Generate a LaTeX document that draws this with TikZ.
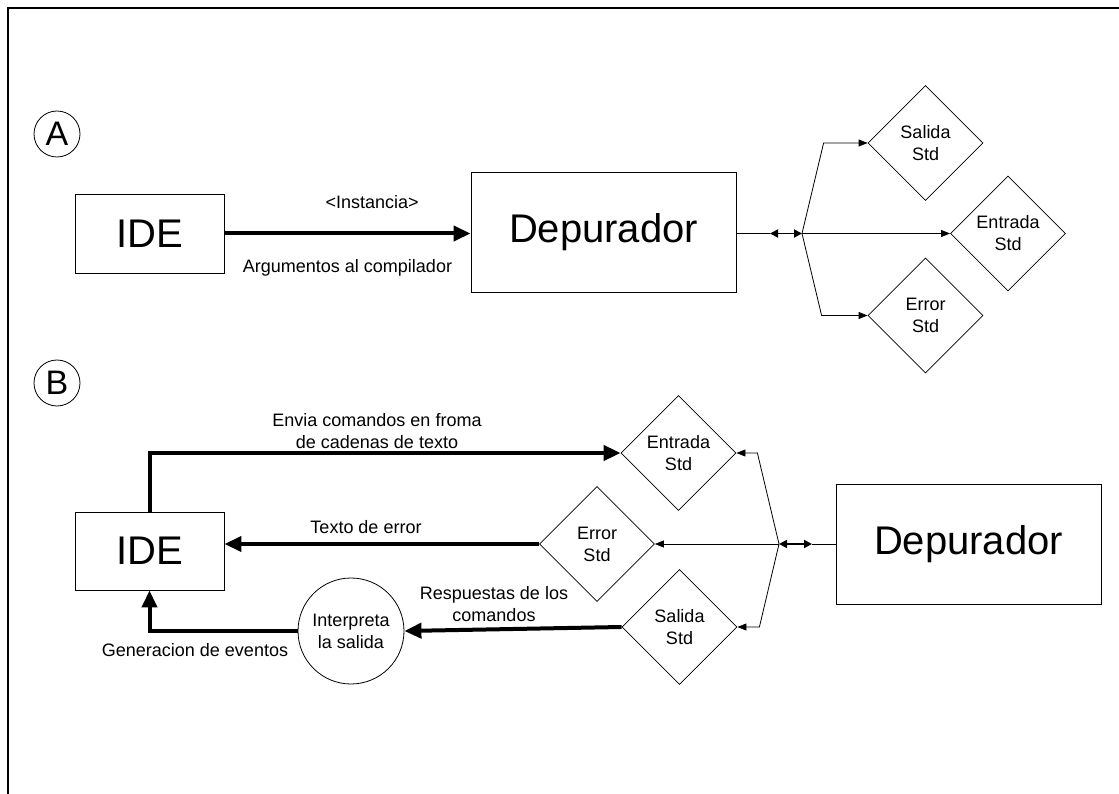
\documentclass[tikz,border=0pt]{standalone}
\usepackage{fontspec}
\setmainfont{Liberation Sans}
\usetikzlibrary{shapes.geometric,arrows.meta}

\begin{document}
\begin{tikzpicture}[x=1pt,y=-1pt,
  lbl/.style={font=\fontsize{18}{22}\selectfont, align=center, inner sep=0},
  bigbox/.style={draw, line width=0.9pt, font=\fontsize{40}{48}\selectfont, inner sep=0},
  stdbox/.style={draw, diamond, aspect=1, minimum width=115pt, minimum height=115pt,
                 inner sep=0, line width=0.8pt, font=\fontsize{18}{22}\selectfont, align=center},
  tag/.style={draw, circle, minimum size=46pt, inner sep=0, line width=0.8pt,
              font=\fontsize{34}{38}\selectfont},
  wire/.style={line width=0.8pt, -{Triangle[length=9pt,width=7pt]}},
  plain/.style={line width=0.8pt},
  bus/.style={line width=1.8pt, {Triangle[length=8pt,width=8pt]}-{Triangle[length=8pt,width=8pt]}},
  flow/.style={line width=4pt, -{Triangle[length=17pt,width=15pt]}},
]
\useasboundingbox (0,0) rectangle (1119,794);

% page frame (top and left edges)
\coordinate (fBL) at (8,794);
\coordinate (fTL) at (8,8);
\coordinate (fTR) at (1119,8);
\draw[line width=2pt] (fBL) -- (fTL) -- (fTR);

% ---------------- Part A ----------------
\node[tag] (tagA) at (57,134) {A};

\node[bigbox, minimum width=149pt, minimum height=79pt] (ideA) at (149.5,233.5) {IDE};
\node[bigbox, minimum width=265pt, minimum height=120pt] (depA) at (603.5,232) {Depurador};

\node[stdbox] (salA) at (925.5,143) {Salida\\Std};
\node[stdbox] (entA) at (1008,233.5) {Entrada\\Std};
\node[stdbox] (errA) at (925.5,315.5) {Error\\Std};

\draw[flow] (ideA.east) -- (ideA.east -| depA.west)
  node[lbl, pos=0.6, above=23pt] {<Instancia>}
  node[lbl, pos=0.5, below=24pt] {Argumentos al compilador};

\coordinate (dA) at (770,233.5);
\coordinate (brA) at (802,233.5);
\draw[plain] (depA.east |- dA) -- (dA);
\draw[bus] (dA) -- (brA);
\draw[wire] (brA) -- ([xshift=-44pt]salA.west) -- (salA.west);
\draw[wire] (brA) -- (entA.west);
\draw[wire] (brA) -- ([xshift=-46pt]errA.west) -- (errA.west);

% ---------------- Part B ----------------
\node[tag] (tagB) at (57,383) {B};

\node[bigbox, minimum width=149pt, minimum height=78pt] (ideB) at (149.5,551) {IDE};
\node[bigbox, minimum width=265pt, minimum height=120pt] (depB) at (968.5,544) {Depurador};

\node[stdbox] (entB) at (678.5,453) {Entrada\\Std};
\node[stdbox] (errB) at (597,544) {Error\\Std};
\node[stdbox] (salB) at (679.5,627) {Salida\\Std};

\node[draw, circle, minimum size=106pt, inner sep=0, line width=0.8pt, lbl] (interp) at (351,631)
  {Interpreta\\la salida};

\coordinate (dB) at (812,544);
\coordinate (brB) at (779,544);
\draw[plain] (depB.west) -- (dB);
\draw[bus] (brB) -- (dB);
\draw[wire] (brB) -- ([xshift=21pt]entB.east) -- (entB.east);
\draw[wire] (brB) -- (errB.east);
\draw[wire] (brB) -- ([xshift=22pt]salB.east) -- (salB.east);

% IDE -> Entrada Std
\draw[flow] (ideB.north) -- (ideB.north |- entB.west) -- (entB.west);
\node[lbl] (lblEnv) at (377,431) {Envia comandos en froma\\de cadenas de texto};

% Error Std -> IDE
\draw[flow] (errB.west) -- (errB.west -| ideB.east);
\node[lbl] (lblErr) at (366,527) {Texto de error};

% Salida Std -> interpreter
\draw[flow] (salB.west) -- (interp.east);
\node[lbl] (lblResp) at (494,604) {Respuestas de los\\comandos};

% interpreter -> IDE
\draw[flow] (interp.west) -- (interp.west -| ideB.south) -- (ideB.south);
\node[lbl] (lblGen) at (195,650) {Generacion de eventos};

\end{tikzpicture}
\end{document}
